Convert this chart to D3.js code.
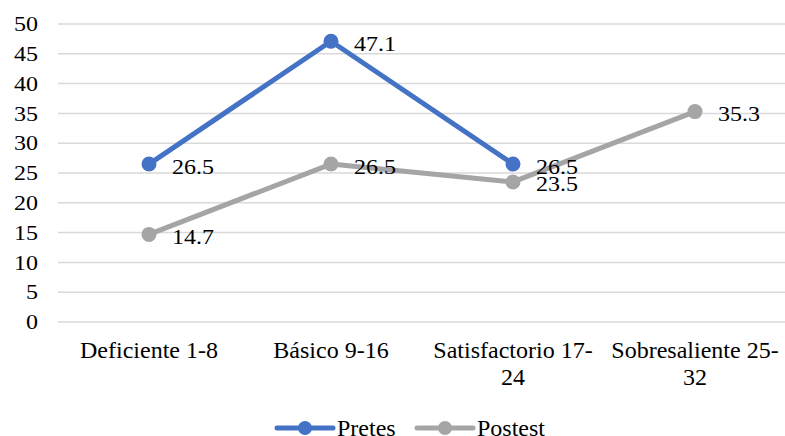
<!DOCTYPE html>
<html><head><meta charset="utf-8"><script src="https://cdn.jsdelivr.net/npm/d3@7"></script></head>
<body style="margin:0">
<svg id="chart" width="785" height="436"></svg>
<script>
// Level categories and the two series (percentages)
const categories = ["Deficiente 1-8", "Básico 9-16", "Satisfactorio 17-24", "Sobresaliente 25-32"];
const pretes = [26.5, 47.1, 26.5, null];
const postest = [14.7, 26.5, 23.5, 35.3];
const yTicks = [0, 5, 10, 15, 20, 25, 30, 35, 40, 45, 50];
const seriesNames = ["Pretes", "Postest"];
const seriesColors = ["#4472C4", "#A5A5A5"];
const faces = ["Liberation Serif"];

const series = seriesNames.map((name, i) => ({ name, values: [pretes, postest][i], color: seriesColors[i] }));

// apply the serif face to a text selection
const serif = (sel, size) => sel
  .attr("font-size", size)
  .style("font-family", () => `"${faces[0]}"`);

const svg = d3.select("#chart");
const W = 785, H = 436;
const margin = { left: 58, right: -1, top: 24, bottom: 114 };

const x = d3.scaleBand().domain(categories).range([margin.left, W - margin.right]);
const y = d3.scaleLinear().domain([0, 50]).range([H - margin.bottom, margin.top]);
const cx = c => x(c) + x.bandwidth() / 2;

// Horizontal gridlines
svg.append("g")
  .selectAll("line")
  .data(yTicks)
  .join("line")
  .attr("x1", margin.left).attr("x2", W)
  .attr("y1", d => y(d)).attr("y2", d => y(d))
  .attr("stroke", "#D9D9D9").attr("stroke-width", 1.5);

// Y axis labels (numbers are set slightly wide)
svg.append("g")
  .attr("transform", "translate(38,0)")
  .call(d3.axisLeft(y).tickValues(yTicks).tickSize(0).tickPadding(0))
  .call(g => g.select(".domain").remove())
  .call(g => g.selectAll("text")
    .attr("x", 0)
    .attr("dy", "0.33em")
    .attr("fill", "#000")
    .attr("transform", "scale(1.2,1)")
    .call(serif, 20));

// Category labels, wrapped to the band width (break after spaces or hyphens)
function wrapLabel(textSel, width) {
  textSel.each(function(d) {
    const t = d3.select(this);
    const tokens = d.split(/(?<=[\s-])/);
    t.text(null);
    let line = "";
    const lines = [];
    const probe = t.append("tspan");
    tokens.forEach(tok => {
      const test = line + tok;
      probe.text(test.trimEnd());
      if (probe.node().getComputedTextLength() > width && line) {
        lines.push(line.trimEnd());
        line = tok;
      } else {
        line = test;
      }
    });
    lines.push(line.trimEnd());
    probe.remove();
    lines.forEach((l, i) => {
      t.append("tspan").attr("x", 0).attr("dy", i === 0 ? 0 : 27).text(l);
    });
  });
}

svg.append("g").selectAll("text")
  .data(categories)
  .join("text")
  .attr("transform", d => `translate(${cx(d)},${y(0) + 36})`)
  .attr("text-anchor", "middle")
  .attr("fill", "#000")
  .call(serif, 24)
  .call(wrapLabel, x.bandwidth() - 10);

// Lines and markers
const line = d3.line()
  .defined(d => d.v != null)
  .x(d => cx(d.c))
  .y(d => y(d.v));

series.forEach(s => {
  const pts = categories.map((c, i) => ({ c, v: s.values[i] }));
  const g = svg.append("g");
  g.append("path")
    .datum(pts)
    .attr("d", line)
    .attr("fill", "none")
    .attr("stroke", s.color)
    .attr("stroke-width", 5)
    .attr("stroke-linejoin", "round");
  s.points = pts.filter(p => p.v != null);
  g.selectAll("circle")
    .data(s.points)
    .join("circle")
    .attr("cx", d => cx(d.c))
    .attr("cy", d => y(d.v))
    .attr("r", 7.5)
    .attr("fill", s.color);
});

// Value labels, on top of every series
series.forEach(s => {
  svg.append("g").selectAll("text")
    .data(s.points)
    .join("text")
    .attr("transform", d => `translate(${cx(d.c) + 23},${y(d.v) + 9.5}) scale(1.2,1)`)
    .attr("fill", "#000")
    .call(serif, 20)
    .text(d => d.v.toFixed(1));
});

// Legend
const legendX = [277, 417];
series.forEach((s, i) => {
  const g = svg.append("g").attr("transform", `translate(${legendX[i]},428)`);
  g.append("line").attr("x1", 0).attr("x2", 56).attr("y1", 0).attr("y2", 0)
    .attr("stroke", s.color).attr("stroke-width", 5).attr("stroke-linecap", "round");
  g.append("circle").attr("cx", 28).attr("cy", 0).attr("r", 7).attr("fill", s.color);
  g.append("text").attr("x", 60).attr("y", 8)
    .attr("fill", "#000")
    .call(serif, 24)
    .text(s.name);
});
</script>
</body>
</html>
